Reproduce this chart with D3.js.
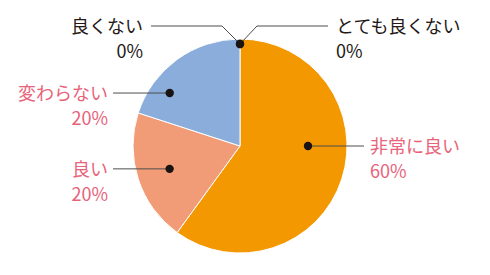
<!DOCTYPE html>
<html>
<head>
<meta charset="utf-8">
<script src="https://cdn.jsdelivr.net/npm/d3@7"></script>
<style>
  body { margin: 0; background: #fff; }
  text { font-family: "Noto Sans CJK JP", "Noto Sans", sans-serif; font-size: 18px; }
</style>
</head>
<body>
<div id="chart"></div>
<script>
// data
var categories = ["非常に良い", "良い", "変わらない", "良くない", "とても良くない"];
var values = [60, 20, 20, 0, 0];
var sliceColors = ["#f39800", "#f29c77", "#8aaddb", "#cccccc", "#cccccc"];
var labelColors = ["#e8637a", "#e8637a", "#e8637a", "#231815", "#231815"];

var width = 490, height = 275;
var cx = 240, cy = 146, radius = 107;

// label layout: dot angle (deg, clockwise from top), dot radius, label anchor point
var layout = [
  { ang: 90, r: 68, side: 1, tx: 370, elbow: null, lx: 364 },
  { ang: 252, r: 74, side: -1, tx: 108, elbow: null, lx: 113 },
  { ang: 307, r: 88, side: -1, tx: 108, elbow: null, lx: 113 },
  { ang: 0, r: 102, side: -1, tx: 143, elbow: [222, 26], lx: 151 },
  { ang: 0, r: 102, side: 1, tx: 336, elbow: [257, 26], lx: 328 }
];

var svg = d3.select("#chart").append("svg")
  .attr("width", width)
  .attr("height", height);

var g = svg.append("g").attr("transform", "translate(" + cx + "," + cy + ")");

var pie = d3.pie().sort(null).value(function (d) { return d; });
var arcs = pie(values);

var arc = d3.arc().innerRadius(0).outerRadius(radius);

g.selectAll("path.slice")
  .data(arcs.filter(function (d) { return d.data > 0; }))
  .enter()
  .append("path")
  .attr("class", "slice")
  .attr("d", arc)
  .attr("fill", function (d) { return sliceColors[d.index]; })
  .attr("stroke", "#fff")
  .attr("stroke-width", 1);

// leader lines, dots and labels
arcs.forEach(function (d, i) {
  var L = layout[i];
  var a = L.ang * Math.PI / 180;
  var px = Math.sin(a) * L.r, py = -Math.cos(a) * L.r;
  var y0 = L.elbow ? L.elbow[1] - cy : py;
  var pts = [[px, py]];
  if (L.elbow) pts.push([L.elbow[0] - cx, L.elbow[1] - cy]);
  pts.push([L.lx - cx, y0]);

  g.append("path")
    .attr("d", d3.line()(pts))
    .attr("fill", "none")
    .attr("stroke", "#4d4d4d")
    .attr("stroke-width", 1);

  g.append("circle")
    .attr("cx", px)
    .attr("cy", py)
    .attr("r", 4.2)
    .attr("fill", "#1a1311");

  var t = g.append("text")
    .attr("text-anchor", L.side > 0 ? "start" : "end")
    .attr("fill", labelColors[i]);
  t.append("tspan")
    .attr("x", L.tx - cx)
    .attr("y", y0 + 7)
    .text(categories[i]);
  t.append("tspan")
    .attr("x", L.tx - cx)
    .attr("y", y0 + 32)
    .text(values[i] + "%");
});
</script>
</body>
</html>
